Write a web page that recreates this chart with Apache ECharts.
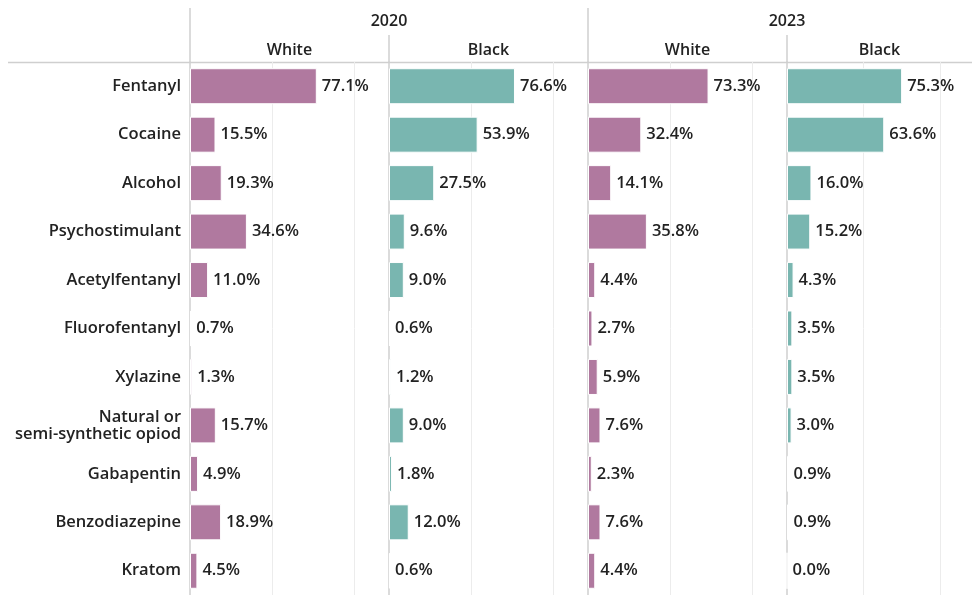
<!DOCTYPE html>
<html>
<head>
<meta charset="utf-8">
<script src="https://cdn.jsdelivr.net/npm/echarts@6/dist/echarts.min.js"></script>
<style>
  html, body { margin: 0; padding: 0; background: #fff; }
  #chart { width: 972px; height: 595px; }
</style>
</head>
<body>
<div id="chart"></div>
<script>
const categories = ['Fentanyl', 'Cocaine', 'Alcohol', 'Psychostimulant', 'Acetylfentanyl',
  'Fluorofentanyl', 'Xylazine', 'Natural or\nsemi-synthetic opiod', 'Gabapentin',
  'Benzodiazepine', 'Kratom'];
const white2020 = [77.1, 15.5, 19.3, 34.6, 11.0, 0.7, 1.3, 15.7, 4.9, 18.9, 4.5];
const black2020 = [76.6, 53.9, 27.5, 9.6, 9.0, 0.6, 1.2, 9.0, 1.8, 12.0, 0.6];
const white2023 = [73.3, 32.4, 14.1, 35.8, 4.4, 2.7, 5.9, 7.6, 2.3, 7.6, 4.4];
const black2023 = [75.3, 63.6, 16.0, 15.2, 4.3, 3.5, 3.5, 3.0, 0.9, 0.9, 0.0];
const years = ['2020', '2023'];
const groups = ['White', 'Black'];

const PINK = '#b0799f';
const TEAL = '#79b6b0';
const FONT = '"Open Sans", Roboto, sans-serif';

const panels = [
  { data: white2020, color: PINK, group: groups[0] },
  { data: black2020, color: TEAL, group: groups[1] },
  { data: white2023, color: PINK, group: groups[0] },
  { data: black2023, color: TEAL, group: groups[1] }
];
const lefts = [190, 389, 588, 787];
const panelWidth = 199;

const chart = echarts.init(document.getElementById('chart'));

const grid = [], xAxis = [], yAxis = [], series = [];
panels.forEach((p, i) => {
  grid.push({ left: lefts[i], top: 62, width: panelWidth, height: 535 });
  xAxis.push({
    gridIndex: i, type: 'value', position: 'top', min: 0, max: 121, interval: 50,
    name: p.group, nameLocation: 'middle', nameGap: 4,
    nameTextStyle: { fontFamily: FONT, fontSize: 16, fontWeight: 600, color: '#222' },
    axisLine: { show: false }, axisTick: { show: false }, axisLabel: { show: false },
    splitLine: { show: true, showMinLine: false, showMaxLine: false, lineStyle: { color: '#ececec', width: 1 } }
  });
  yAxis.push({
    gridIndex: i, type: 'category', data: categories, inverse: true,
    axisLine: { show: true, lineStyle: { color: '#cfcfcf', width: 1.5 } },
    axisTick: { show: false },
    axisLabel: {
      show: i === 0, margin: 9, fontFamily: FONT, fontSize: 16.5, fontWeight: 600,
      color: '#222', lineHeight: 17, align: 'right'
    }
  });
  series.push({
    type: 'bar', xAxisIndex: i, yAxisIndex: i, data: p.data, barWidth: 36,
    itemStyle: { color: p.color, borderColor: '#fff', borderWidth: 1 },
    label: {
      show: true, position: 'right', distance: 5,
      fontFamily: FONT, fontSize: 16.5, fontWeight: 600, color: '#222',
      formatter: d => d.value.toFixed(1) + '%'
    },
    silent: true, animation: false
  });
});

const lineStyle = { stroke: '#cfcfcf', lineWidth: 1.5 };
const graphic = [
  { type: 'line', shape: { x1: 8, y1: 62.5, x2: 972, y2: 62.5 }, style: lineStyle },
  { type: 'line', shape: { x1: 190, y1: 8, x2: 190, y2: 62 }, style: lineStyle },
  { type: 'line', shape: { x1: 588, y1: 8, x2: 588, y2: 62 }, style: lineStyle },
  { type: 'line', shape: { x1: 389, y1: 35, x2: 389, y2: 62 }, style: lineStyle },
  { type: 'line', shape: { x1: 787, y1: 35, x2: 787, y2: 62 }, style: lineStyle },
  { type: 'text', x: 389, y: 21, style: { text: years[0], fontFamily: FONT, fontSize: 16, fontWeight: 600, fill: '#222', textAlign: 'center', textVerticalAlign: 'middle' } },
  { type: 'text', x: 787, y: 21, style: { text: years[1], fontFamily: FONT, fontSize: 16, fontWeight: 600, fill: '#222', textAlign: 'center', textVerticalAlign: 'middle' } }
];

chart.setOption({
  animation: false,
  grid: grid,
  xAxis: xAxis,
  yAxis: yAxis,
  series: series,
  graphic: graphic
});
</script>
</body>
</html>
